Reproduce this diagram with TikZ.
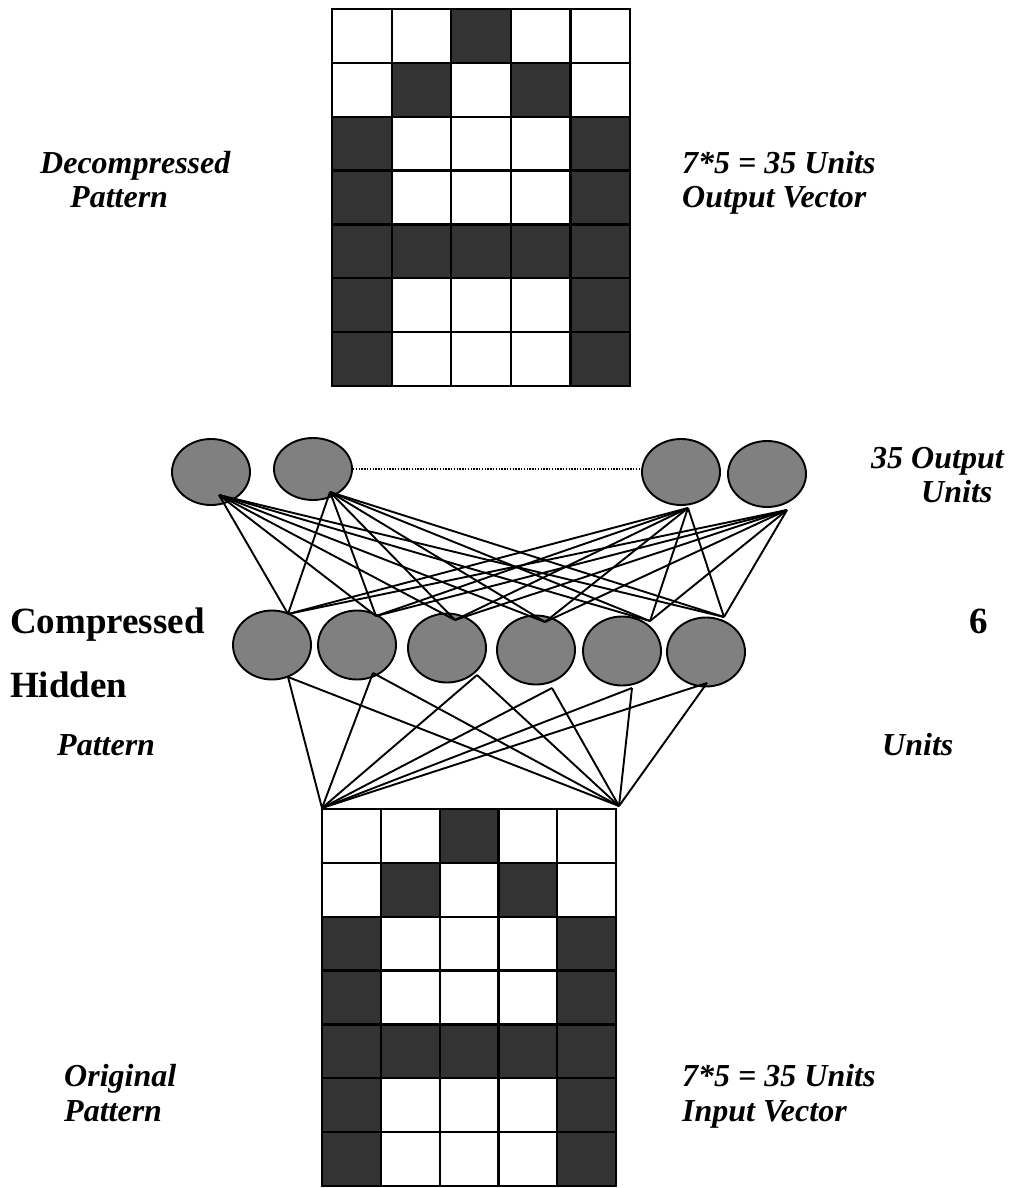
\documentclass[tikz,border=0pt]{standalone}
\usepackage{fontspec}
\setmainfont{Liberation Serif}
\usetikzlibrary{shapes.geometric}
\definecolor{cellD}{HTML}{333333}
\colorlet{cellW}{white}
\definecolor{unitgray}{HTML}{808080}
\begin{document}
\begin{tikzpicture}[x=1pt,y=-1pt,
  unit/.style={ellipse, draw, line width=1.9pt, fill=unitgray, minimum width=78pt, minimum height=66pt, inner sep=0pt},
  link/.style={line width=1.9pt},
  dots/.style={line width=1.4pt, dash pattern=on 1.4pt off 1.4pt},
  cell/.style={draw=black, line width=2.2pt},
  lbl/.style={font=\fontsize{32}{38}\selectfont\bfseries\itshape, inner sep=0pt, anchor=base west},
  big/.style={font=\fontsize{37}{44}\selectfont\bfseries, inner sep=0pt, anchor=base west}]
\useasboundingbox (0,0) rectangle (1013,1188);

% ---------- top grid (decompressed pattern) ----------
\foreach \row [count=\r from 0] in {{cellW,cellW,cellD,cellW,cellW},{cellW,cellD,cellW,cellD,cellW},{cellD,cellW,cellW,cellW,cellD},{cellD,cellW,cellW,cellW,cellD},{cellD,cellD,cellD,cellD,cellD},{cellD,cellW,cellW,cellW,cellD},{cellD,cellW,cellW,cellW,cellD}}{
  \foreach \v [count=\c from 0] in \row {
    \path[cell, fill=\v] (332+\c*59.6, 9+\r*53.86) rectangle ++(59.6, 53.86);
  }
}
% ---------- bottom grid (original pattern) ----------
\foreach \row [count=\r from 0] in {{cellW,cellW,cellD,cellW,cellW},{cellW,cellD,cellW,cellD,cellW},{cellD,cellW,cellW,cellW,cellD},{cellD,cellW,cellW,cellW,cellD},{cellD,cellD,cellD,cellD,cellD},{cellD,cellW,cellW,cellW,cellD},{cellD,cellW,cellW,cellW,cellD}}{
  \foreach \v [count=\c from 0] in \row {
    \path[cell, fill=\v] (322+\c*58.8, 809+\r*53.86) rectangle ++(58.8, 53.86);
  }
}

% ---------- connector end points ----------
\coordinate (o1a) at (219,495);
\coordinate (o2a) at (330,492);
\coordinate (o3a) at (688,508);
\coordinate (o4a) at (787,510);
\coordinate (h1t) at (288,614);
\coordinate (h2t) at (376,616);
\coordinate (h3t) at (455,620);
\coordinate (h4t) at (545,622);
\coordinate (h5t) at (650,621);
\coordinate (h6t) at (724,617);
\coordinate (h1b) at (288,677);
\coordinate (h2b) at (373,673);
\coordinate (h3b) at (477,675);
\coordinate (h4b) at (552,688);
\coordinate (h5b) at (632,688);
\coordinate (h6b) at (707,683);
\coordinate (inL) at (322,808);
\coordinate (inR) at (619,806);

% ---------- units ----------
\node[unit] (o1) at (211,472) {};
\node[unit, minimum height=62pt] (o2) at (313,469) {};
\node[unit] (o3) at (681,472) {};
\node[unit] (o4) at (767,474) {};
\node[unit, minimum height=69pt] (h1) at (272,645) {};
\node[unit, minimum height=69pt] (h2) at (357,645) {};
\node[unit, minimum height=69pt] (h3) at (447,648) {};
\node[unit, minimum height=69pt] (h4) at (536,650) {};
\node[unit, minimum height=69pt] (h5) at (622,651) {};
\node[unit, minimum height=69pt] (h6) at (706,652) {};

% ---------- connectors (drawn over the units, as in the reference) ----------
\foreach \o in {o1a,o2a,o3a,o4a}{
  \foreach \h in {h1t,h2t,h3t,h4t,h5t,h6t}{
    \draw[link] (\o) -- (\h);
  }
}
\foreach \h in {h1b,h2b,h3b,h4b,h5b,h6b}{
  \draw[link] (\h) -- (inL);
  \draw[link] (\h) -- (inR);
}

\draw[dots] (o2.east) -- (o3.west |- o2.east);

% ---------- labels ----------
\node[lbl] (t1) at (40,173) {Decompressed};
\node[lbl] (t2) at (70,207) {Pattern};
\node[lbl] (t3) at (682,173) {7*5 = 35 Units};
\node[lbl] (t4) at (682,207) {Output Vector};
\node[lbl] (t5) at (871,468) {35 Output};
\node[lbl] (t6) at (921,502) {Units};
\node[big] (t7) at (10,633) {Compressed};
\node[big] (t8) at (969,633) {6};
\node[big] (t9) at (10,697) {Hidden};
\node[lbl] (t10) at (57,755) {Pattern};
\node[lbl] (t11) at (882,755) {Units};
\node[lbl] (t12) at (64,1086) {Original};
\node[lbl] (t13) at (64,1121) {Pattern};
\node[lbl] (t14) at (682,1086) {7*5 = 35 Units};
\node[lbl] (t15) at (682,1121) {Input Vector};
\end{tikzpicture}
\end{document}
